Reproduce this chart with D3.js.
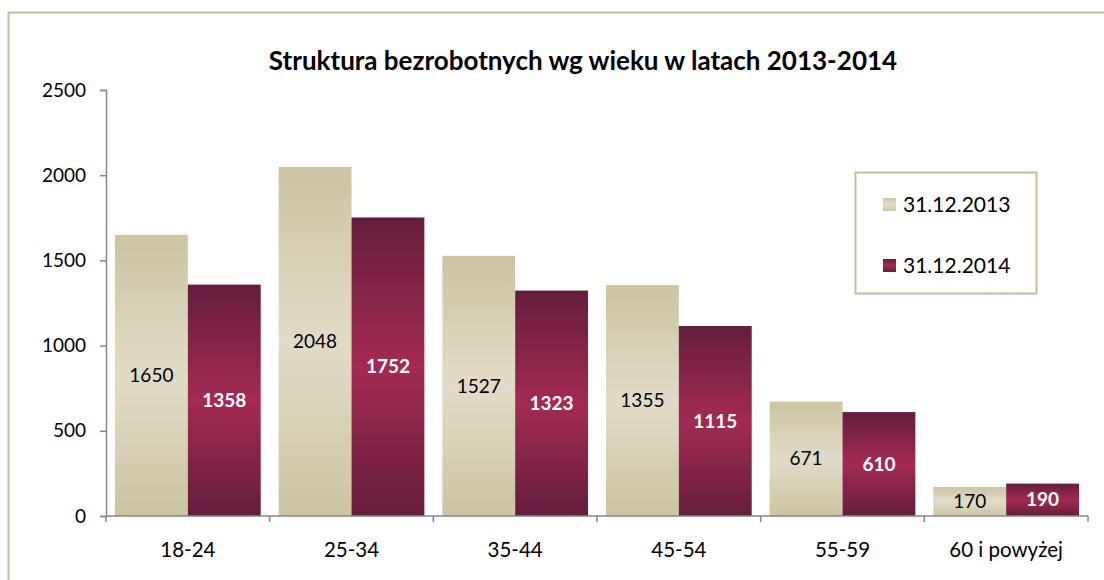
<!DOCTYPE html>
<html>
<head>
<meta charset="utf-8">
<script src="https://cdn.jsdelivr.net/npm/d3@7"></script>
<style>
  body { margin: 0; background: #fff; }
  svg { font-family: Lato, "Open Sans", sans-serif; }
</style>
</head>
<body>
<div id="chart"></div>
<script>
var width = 1104;
var height = 580;

// data
var categories = ["18-24", "25-34", "35-44", "45-54", "55-59", "60 i powyżej"];
var values2013 = [1650, 2048, 1527, 1355, 671, 170];
var values2014 = [1358, 1752, 1323, 1115, 610, 190];
var seriesNames = ["31.12.2013", "31.12.2014"];
var yTicks = [0, 500, 1000, 1500, 2000, 2500];

var margin = {left: 106, top: 90, right: 16, bottom: 64};

var svg = d3.select("#chart").append("svg")
  .attr("width", width)
  .attr("height", height);

// gradients, like the office chart
var defs = svg.append("defs");
function addGrad(id, edge, mid) {
  var g = defs.append("linearGradient").attr("id", id)
    .attr("x1", 0).attr("y1", 0).attr("x2", 0).attr("y2", 1);
  g.append("stop").attr("offset", "0%").attr("stop-color", edge);
  g.append("stop").attr("offset", "50%").attr("stop-color", mid);
  g.append("stop").attr("offset", "100%").attr("stop-color", edge);
}
addGrad("g2013", "#ccc5a3", "#e1dcc7");
addGrad("g2014", "#651d3d", "#a32a52");
var fills = ["url(#g2013)", "url(#g2014)"];

// outer frame (runs off the page at right and bottom)
svg.append("rect")
  .attr("x", 8.5).attr("y", 12.5)
  .attr("width", 1200).attr("height", 700)
  .attr("fill", "none")
  .attr("stroke", "#c4bd97")
  .attr("stroke-width", 2);

var x = d3.scaleBand()
  .domain(categories)
  .range([margin.left, width - margin.right])
  .paddingInner(0)
  .paddingOuter(0);

var x1 = d3.scaleBand()
  .domain([0, 1])
  .range([0, x.bandwidth()])
  .paddingOuter(0.123);

var y = d3.scaleLinear()
  .domain([0, 2500])
  .range([height - margin.bottom, margin.top]);

// title
svg.append("text")
  .attr("x", 583).attr("y", 70)
  .attr("text-anchor", "middle")
  .style("font-size", "26px")
  .style("font-weight", "bold")
  .text("Struktura bezrobotnych wg wieku w latach 2013-2014");

// bars
var rows = categories.map(function(c, i) {
  return {cat: c, vals: [values2013[i], values2014[i]]};
});

var groups = svg.append("g").selectAll("g")
  .data(rows)
  .enter().append("g")
  .attr("transform", function(d) { return "translate(" + x(d.cat) + ",0)"; });

groups.selectAll("rect")
  .data(function(d) { return d.vals; })
  .enter().append("rect")
  .attr("x", function(d, i) { return x1(i); })
  .attr("width", x1.bandwidth())
  .attr("y", function(d) { return y(d); })
  .attr("height", function(d) { return y(0) - y(d); })
  .attr("fill", function(d, i) { return fills[i]; });

groups.selectAll("text")
  .data(function(d) { return d.vals; })
  .enter().append("text")
  .attr("x", function(d, i) { return x1(i) + x1.bandwidth() / 2; })
  .attr("y", function(d) { return (y(d) + y(0)) / 2; })
  .attr("dy", "0.35em")
  .attr("text-anchor", "middle")
  .style("font-size", "19px")
  .style("font-weight", function(d, i) { return i == 1 ? "bold" : "normal"; })
  .style("fill", function(d, i) { return i == 1 ? "#fff" : "#000"; })
  .text(function(d) { return d; });

// y axis
var yAxis = svg.append("g")
  .attr("transform", "translate(" + margin.left + ",0)")
  .call(d3.axisLeft(y).tickValues(yTicks).tickFormat(d3.format("d")).tickSize(6).tickPadding(14));

// x axis
var xAxis = svg.append("g")
  .attr("transform", "translate(0," + y(0) + ")")
  .call(d3.axisBottom(x).tickSize(0).tickPadding(26));

// category boundary ticks on x axis
svg.append("g").selectAll("line")
  .data(categories.concat(["end"]))
  .enter().append("line")
  .attr("x1", function(d, i) { return margin.left + i * x.bandwidth(); })
  .attr("x2", function(d, i) { return margin.left + i * x.bandwidth(); })
  .attr("y1", y(0))
  .attr("y2", y(0) + 6)
  .attr("stroke", "#868686")
  .attr("stroke-width", 1.5);

[yAxis, xAxis].forEach(function(ax) {
  ax.selectAll("path, line").attr("stroke", "#868686").attr("stroke-width", 1.5);
  ax.selectAll("text").style("font-size", "19px").style("fill", "#000")
    .style("font-family", "Lato, 'Open Sans', sans-serif");
});
xAxis.selectAll("text").style("font-size", "20.5px");
xAxis.select(".domain").attr("d", "M" + margin.left + ",0H" + (width - margin.right));

// legend
var legend = svg.append("g");
legend.append("rect")
  .attr("x", 855.5).attr("y", 172.5)
  .attr("width", 181).attr("height", 121)
  .attr("fill", "#fff")
  .attr("stroke", "#c4bd97")
  .attr("stroke-width", 2);

var items = legend.selectAll("g.item")
  .data(seriesNames)
  .enter().append("g")
  .attr("class", "item")
  .attr("transform", function(d, i) { return "translate(883," + (198 + i * 61) + ")"; });

items.append("rect")
  .attr("width", 13).attr("height", 13)
  .attr("fill", function(d, i) { return fills[i]; });

items.append("text")
  .attr("x", 20).attr("y", 6.5)
  .attr("dy", "0.36em")
  .style("font-size", "21px")
  .text(function(d) { return d; });
</script>
</body>
</html>
